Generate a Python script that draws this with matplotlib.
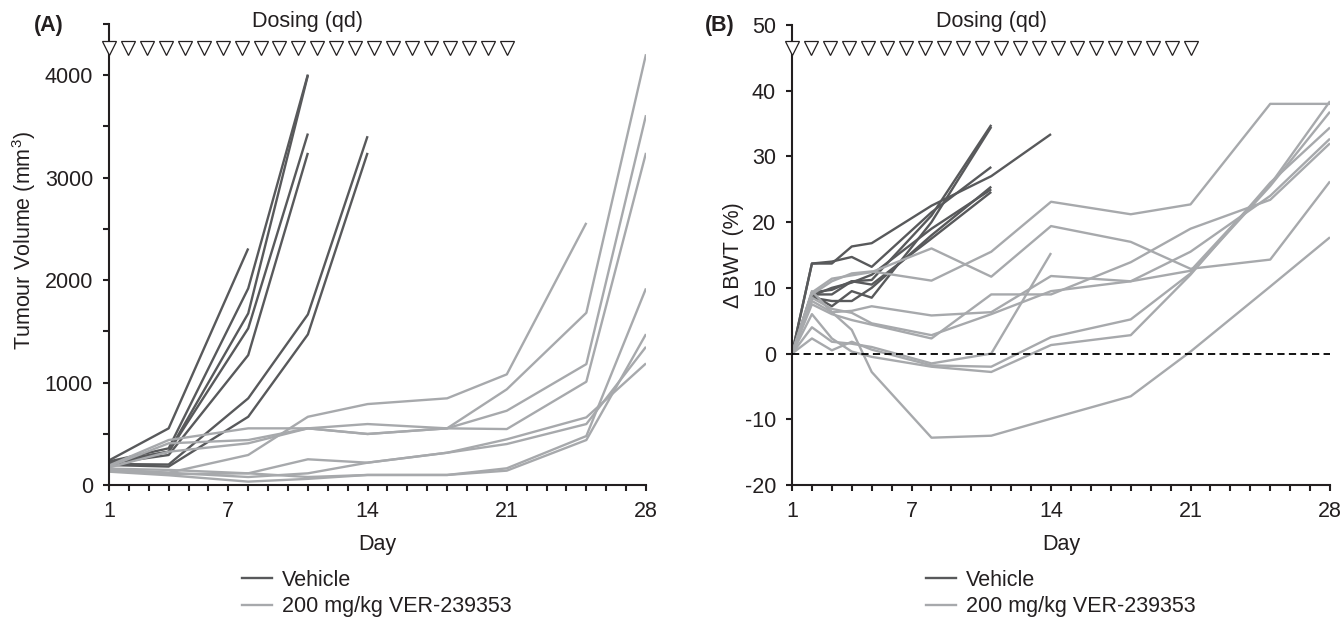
import numpy as np
import matplotlib
matplotlib.use("Agg")
import matplotlib.pyplot as plt
from matplotlib.ticker import FixedLocator, MultipleLocator
from matplotlib.lines import Line2D

plt.rcParams['font.family'] = ['Liberation Sans', 'DejaVu Sans']
plt.rcParams['axes.unicode_minus'] = False
plt.rcParams['mathtext.fontset'] = 'custom'
plt.rcParams['mathtext.rm'] = 'Liberation Sans'

nan = np.nan

# ---------------- data ----------------
days_a = [1, 4, 8, 11, 14, 18, 21, 25, 28]
vehicle_a = [
    [240, 553, 2309, nan, nan, nan, nan, nan, nan],
    [230, 358, 1919, 4007, nan, nan, nan, nan, nan],
    [225, 325, 1675, 4000, nan, nan, nan, nan, nan],
    [215, 325, 1529, 3431, nan, nan, nan, nan, nan],
    [210, 293, 1268, 3242, nan, nan, nan, nan, nan],
    [205, 200, 846, 1665, 3405, nan, nan, nan, nan],
    [195, 180, 666, 1470, 3242, nan, nan, nan, nan],
]
treated_a = [
    [150, 120, 293, 666, 790, 846, 1080, 2559, nan],
    [190, 439, 553, 553, 498, 553, 934, 1681, 4205],
    [180, 407, 439, 553, 595, 553, 725, 1180, 3610],
    [170, 325, 407, 553, 498, 553, 546, 1008, 3242],
    [160, 147, 114, 251, 218, 315, 446, 660, 1187],
    [150, 120, 78, 114, 218, 315, 400, 595, 1349],
    [140, 105, 114, 78, 98, 98, 163, 478, 1919],
    [130, 95, 33, 60, 98, 98, 140, 439, 1473],
]

days_b = [1, 2, 3, 4, 5, 8, 11, 14, 18, 21, 25, 28]
vehicle_b = [
    [0, 13.7, 13.7, 16.3, 16.8, 22.5, 27.0, 33.4, nan, nan, nan, nan],
    [0, 13.7, 14.0, 14.7, 13.2, 21.5, 28.4, nan, nan, nan, nan, nan],
    [0, 9.3, 9.7, 11.0, 11.2, 21.0, 34.8, nan, nan, nan, nan, nan],
    [0, 9.0, 7.2, 9.5, 8.5, 20.0, 34.5, nan, nan, nan, nan, nan],
    [0, 8.5, 8.0, 8.0, 10.0, 18.0, 25.4, nan, nan, nan, nan, nan],
    [0, 9.0, 9.0, 11.0, 10.5, 17.5, 24.6, nan, nan, nan, nan, nan],
    [0, 8.8, 10.0, 10.8, 12.0, 19.0, 25.0, nan, nan, nan, nan, nan],
]
treated_b = [
    [0, 9.0, 11.0, 12.2, 12.5, 11.1, 15.5, 23.1, 21.2, 22.7, 38.0, 38.0],
    [0, 9.3, 11.4, 11.9, 12.4, 16.0, 11.7, 19.4, 17.0, 12.9, 14.3, 26.2],
    [0, 9.5, 6.3, 6.5, 7.2, 5.8, 6.3, 11.8, 11.0, 12.6, 25.7, 38.4],
    [0, 7.5, 6.0, 5.1, 4.4, 2.3, 9.0, 9.0, 13.9, 19.0, 23.4, 32.0],
    [0, 8.5, 6.8, 6.2, 4.6, 2.8, 6.0, 9.5, 11.0, 15.5, 24.0, 32.7],
    [0, 2.3, 0.5, 1.8, 0.6, -1.8, -2.0, 2.5, 5.2, 12.2, 25.5, 36.8],
    [0, 6.0, 2.3, 0.3, -0.5, -2.0, -2.8, 1.3, 2.8, 12.0, 26.0, 34.4],
    [0, 8.0, 6.3, 3.6, -2.8, -12.8, -12.5, -9.9, -6.5, 0.3, 10.2, 17.7],
    [0, 4.0, 1.8, 1.5, 1.0, -1.5, 0.0, 15.3, nan, nan, nan, nan],
]

x_ticks = [1, 7, 14, 21, 28]
dose_first, dose_last, n_doses = 1, 21, 22
series_labels = ['Vehicle', '200 mg/kg VER-239353']

# ---------------- style ----------------
dark = '#58595b'
light = '#a7a9ac'
ink = '#231f20'
fs = 15.5
lw = 1.7

fig = plt.figure(figsize=(13.41, 6.23), dpi=100)
W, H = 1341, 623
axA = fig.add_axes([109 / W, 1 - 485 / H, (646 - 109) / W, (485 - 24) / H])
axB = fig.add_axes([792 / W, 1 - 485 / H, (1330 - 792) / W, (485 - 25) / H])


def style_axis(ax):
    for s in ['top', 'right']:
        ax.spines[s].set_visible(False)
    for s in ['left', 'bottom']:
        ax.spines[s].set_linewidth(1.5)
        ax.spines[s].set_color(ink)
    ax.set_xlim(1, 28)
    ax.xaxis.set_major_locator(FixedLocator(x_ticks))
    ax.xaxis.set_minor_locator(MultipleLocator(1))
    ax.tick_params(which='both', direction='out', length=4.5, width=1.5,
                   color=ink, labelcolor=ink, labelsize=fs, pad=7)
    ax.set_xlabel('Day', fontsize=fs, color=ink)
    ax.xaxis.label.set_va('center')
    ax.xaxis.set_label_coords(0.5, -0.13)


# ---- Panel A ----
da = np.array(days_a)
for row in vehicle_a:
    axA.plot(da, row, color=dark, lw=lw, solid_capstyle='butt')
for row in treated_a:
    axA.plot(da, row, color=light, lw=lw, solid_capstyle='butt')
style_axis(axA)
axA.set_ylim(0, 4500)
axA.yaxis.set_major_locator(FixedLocator([0, 1000, 2000, 3000, 4000]))
axA.yaxis.set_minor_locator(FixedLocator([500, 1500, 2500, 3500, 4500]))
axA.set_ylabel('Tumour Volume (mm$^3$)', fontsize=fs, color=ink)
axA.yaxis.set_label_coords((38 - 109) / 537, 0.53)

# ---- Panel B ----
db = np.array(days_b)
for row in vehicle_b:
    axB.plot(db, row, color=dark, lw=lw, solid_capstyle='butt')
for row in treated_b:
    axB.plot(db, row, color=light, lw=lw, solid_capstyle='butt')
axB.axhline(0, color='black', lw=1.3, linestyle=(0, (4, 2.4)), zorder=3)
style_axis(axB)
axB.set_ylim(-20, 50)
axB.yaxis.set_major_locator(MultipleLocator(10))
axB.set_ylabel('\u0394 BWT (%)', fontsize=fs, color=ink)
axB.yaxis.set_label_coords((744 - 792) / 538, 0.5)

# ---- dosing triangles ----
dose_days = np.linspace(dose_first, dose_last, n_doses)
for ax, ytri, ytxt in [(axA, 4263, 4527), (axB, 46.5, 50.6)]:
    ax.plot(dose_days, np.full(n_doses, ytri), linestyle='none', marker='v',
            ms=9.5, mfc='white', mec=ink, mew=0.9, clip_on=False, zorder=5)
    ax.text((dose_first + dose_last) / 2, ytxt, 'Dosing (qd)', ha='center',
            va='center', fontsize=fs, color=ink, clip_on=False)

# ---- panel labels ----
fig.text(49 / W, 1 - 25 / H, '(A)', fontsize=15.5, fontweight='bold',
         ha='center', va='center', color=ink)
fig.text(720 / W, 1 - 25 / H, '(B)', fontsize=15.5, fontweight='bold',
         ha='center', va='center', color=ink)

# ---- legends ----
handles = [Line2D([], [], color=dark, lw=lw), Line2D([], [], color=light, lw=lw)]
for ax, x0 in [(axA, 242), (axB, 926)]:
    leg = ax.legend(handles, series_labels, loc='upper left',
                    bbox_to_anchor=(x0 / W, 1 - 570 / H),
                    bbox_transform=fig.transFigure, frameon=False,
                    fontsize=fs, handlelength=1.4, handletextpad=0.45,
                    labelspacing=0.25, borderpad=0, borderaxespad=0)
    for t in leg.get_texts():
        t.set_color(ink)

fig.savefig('out.png', dpi=100)
